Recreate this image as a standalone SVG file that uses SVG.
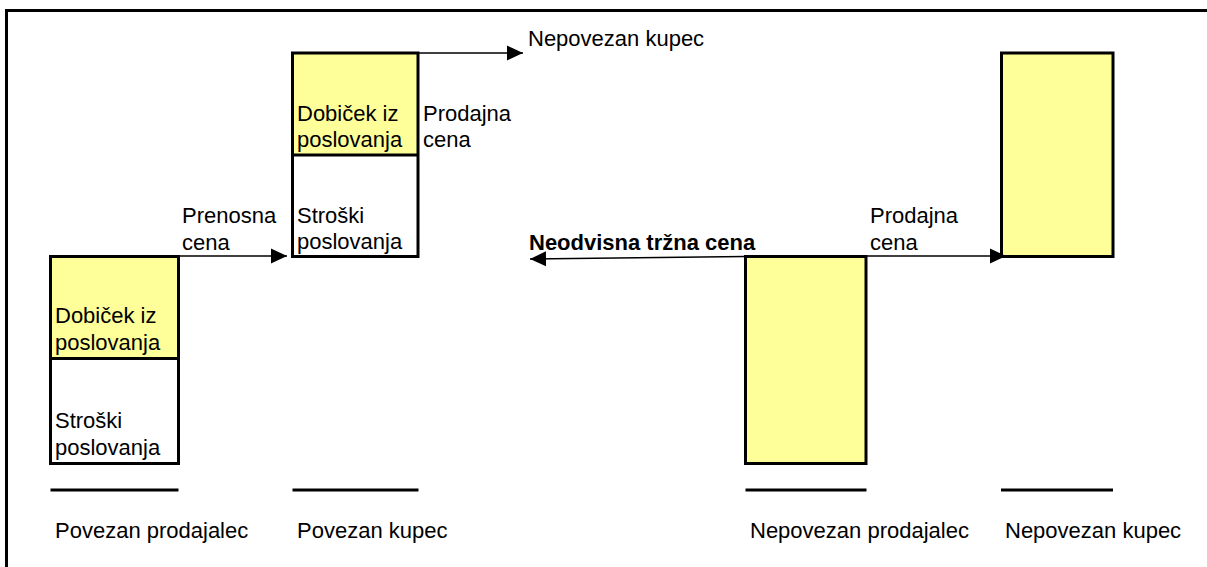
<svg xmlns="http://www.w3.org/2000/svg" width="1207" height="567" viewBox="0 0 1207 567">
<style>
.t{font-family:"Liberation Sans",Arial,sans-serif;font-size:22px;fill:#000}
.b{font-weight:bold}
.box{stroke:#000;stroke-width:3}
.y{fill:#FFFF99}
.w{fill:#FFFFFF}
.div{stroke:#000;stroke-width:3}
.base{stroke:#000;stroke-width:3}
.con{stroke:#000;stroke-width:1.5;fill:none;marker-end:url(#ah)}
</style>
<defs>
<marker id="ah" markerUnits="userSpaceOnUse" markerWidth="16" markerHeight="16" refX="16" refY="7.5" orient="auto" viewBox="0 0 16 15">
<path d="M0,0 L16,7.5 L0,15 z" fill="#000"/>
</marker>
</defs>
<rect x="6.5" y="10.5" width="1210" height="570" fill="none" stroke="#000" stroke-width="3"/>

<g id="povezan-prodajalec">
<rect class="y" x="50.5" y="256.5" width="128" height="102"/>
<rect class="w" x="50.5" y="358.5" width="128" height="105"/>
<rect class="box" x="50.5" y="256.5" width="128" height="207" fill="none"/>
<line class="div" x1="50.5" y1="358.5" x2="178.5" y2="358.5"/>
<text class="t" x="55" y="323">Dobiček iz</text>
<text class="t" x="55" y="350">poslovanja</text>
<text class="t" x="55" y="428">Stroški</text>
<text class="t" x="55" y="455">poslovanja</text>
<line class="base" x1="50.5" y1="490" x2="178.5" y2="490"/>
<text class="t" x="55" y="538">Povezan prodajalec</text>
</g>

<g id="povezan-kupec">
<rect class="y" x="292.5" y="53" width="125.5" height="102"/>
<rect class="w" x="292.5" y="155" width="125.5" height="101.5"/>
<rect class="box" x="292.5" y="53" width="125.5" height="203.5" fill="none"/>
<line class="div" x1="292.5" y1="155" x2="418" y2="155"/>
<text class="t" x="297" y="121">Dobiček iz</text>
<text class="t" x="297" y="147">poslovanja</text>
<text class="t" x="297" y="223">Stroški</text>
<text class="t" x="297" y="249">poslovanja</text>
<line class="base" x1="292.5" y1="490" x2="418.5" y2="490"/>
<text class="t" x="297" y="538">Povezan kupec</text>
</g>

<g id="nepovezan-prodajalec">
<rect class="box y" x="745.5" y="256.5" width="120.5" height="207"/>
<line class="base" x1="745.5" y1="490" x2="866.5" y2="490"/>
<text class="t" x="750" y="538">Nepovezan prodajalec</text>
</g>

<g id="nepovezan-kupec">
<rect class="box y" x="1001.5" y="53" width="111.5" height="203.5"/>
<line class="base" x1="1001" y1="490" x2="1113" y2="490"/>
<text class="t" x="1005" y="538">Nepovezan kupec</text>
</g>

<g id="connectors">
<line class="con" x1="178.5" y1="256" x2="287" y2="256"/>
<text class="t" x="182" y="223">Prenosna</text>
<text class="t" x="182" y="250">cena</text>
<line class="con" x1="418" y1="53" x2="523" y2="53"/>
<text class="t" x="528" y="46">Nepovezan kupec</text>
<text class="t" x="423" y="121">Prodajna</text>
<text class="t" x="423" y="147">cena</text>
<line class="con" x1="745" y1="256.5" x2="530" y2="259"/>
<text class="t b" x="529" y="250">Neodvisna tržna cena</text>
<line class="con" x1="866" y1="256" x2="1006" y2="256"/>
<text class="t" x="870" y="223">Prodajna</text>
<text class="t" x="870" y="250">cena</text>
</g>
</svg>
